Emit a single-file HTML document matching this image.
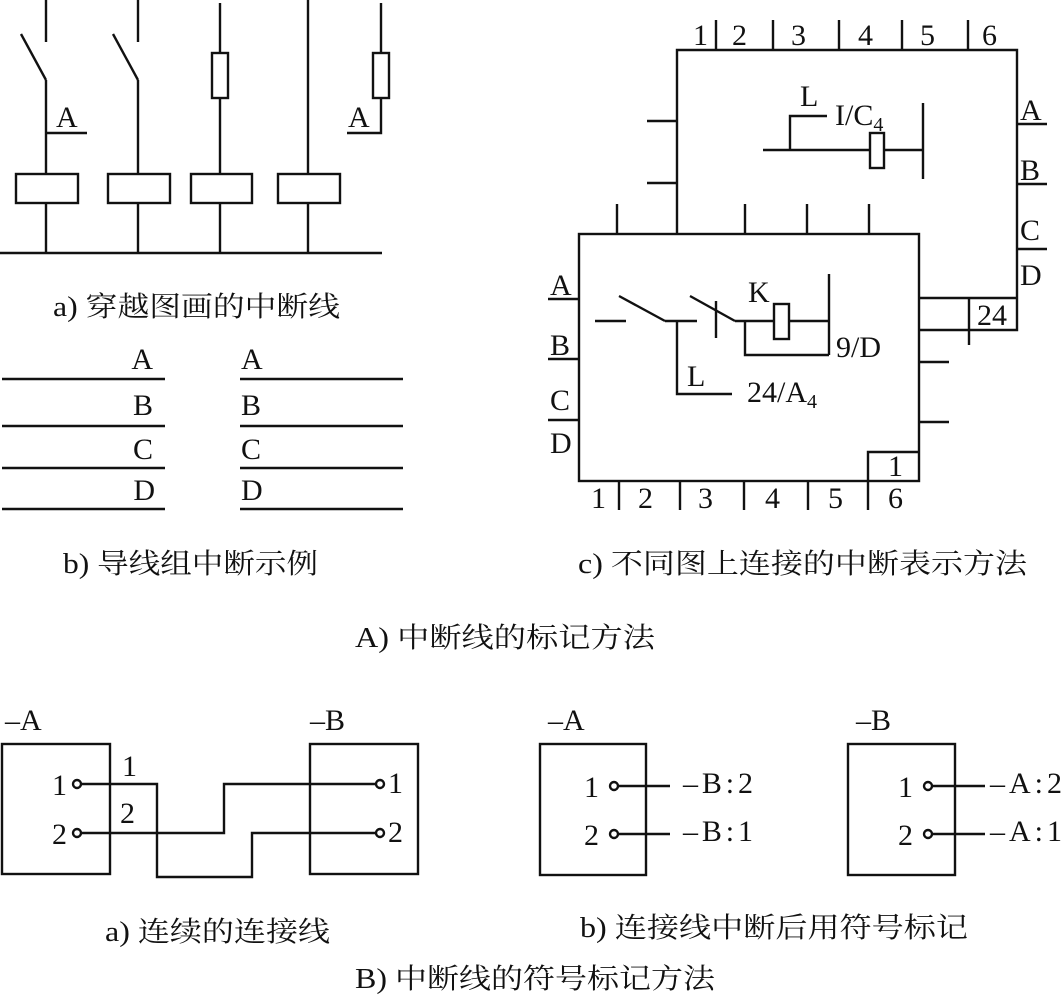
<!DOCTYPE html>
<html><head><meta charset="utf-8"><style>
html,body{margin:0;padding:0;background:#fff;}
svg{display:block;}
text{font-family:"Liberation Serif","Noto Serif CJK SC",serif;fill:#111;}
</style></head><body>
<svg width="1064" height="996" viewBox="0 0 1064 996" xmlns="http://www.w3.org/2000/svg">
<g stroke="#111" stroke-width="2.4" fill="none">
<line x1="46" y1="0" x2="46" y2="42"/><line x1="21" y1="34" x2="46" y2="80"/><line x1="46" y1="80" x2="46" y2="174"/>
<line x1="46" y1="133" x2="87" y2="133"/>
<line x1="138" y1="0" x2="138" y2="42"/><line x1="113" y1="34" x2="138" y2="80"/><line x1="138" y1="80" x2="138" y2="174"/>
<line x1="220" y1="3" x2="220" y2="53"/><rect x="212" y="53" width="16" height="45"/><line x1="220" y1="98" x2="220" y2="174"/>
<line x1="308" y1="0" x2="308" y2="174"/>
<line x1="381" y1="3" x2="381" y2="53"/><rect x="373" y="53" width="16" height="45"/><polyline points="381,98 381,133 347,133"/>
<rect x="16" y="174" width="62" height="29"/><rect x="108" y="174" width="62" height="29"/><rect x="191" y="174" width="61" height="29"/><rect x="278" y="174" width="62" height="29"/>
<line x1="46" y1="203" x2="46" y2="253"/><line x1="138" y1="203" x2="138" y2="253"/><line x1="220" y1="203" x2="220" y2="253"/><line x1="308" y1="203" x2="308" y2="253"/>
<line x1="0" y1="253" x2="382" y2="253"/>
<line x1="2" y1="379" x2="165" y2="379"/><line x1="2" y1="426" x2="165" y2="426"/><line x1="2" y1="468" x2="165" y2="468"/><line x1="2" y1="509" x2="165" y2="509"/>
<line x1="240" y1="379" x2="403" y2="379"/><line x1="240" y1="426" x2="403" y2="426"/><line x1="240" y1="468" x2="403" y2="468"/><line x1="240" y1="509" x2="403" y2="509"/>
<polyline points="677,234 677,50 1017,50 1017,330 920,330"/>
<line x1="920" y1="298" x2="1017" y2="298"/><line x1="969" y1="298" x2="969" y2="345"/>
<line x1="716" y1="20" x2="716" y2="50"/><line x1="773" y1="20" x2="773" y2="50"/><line x1="839" y1="20" x2="839" y2="50"/><line x1="902" y1="20" x2="902" y2="50"/><line x1="968" y1="20" x2="968" y2="50"/>
<line x1="647" y1="121" x2="677" y2="121"/><line x1="647" y1="183" x2="677" y2="183"/>
<polyline points="790,150 790,116 827,116"/>
<line x1="763" y1="150" x2="870" y2="150"/><rect x="870" y="133" width="14" height="35"/><line x1="884" y1="150" x2="923" y2="150"/>
<line x1="923" y1="103" x2="923" y2="179"/>
<line x1="1017" y1="124" x2="1047" y2="124"/><line x1="1017" y1="184" x2="1047" y2="184"/><line x1="1017" y1="249" x2="1047" y2="249"/>
<rect x="579" y="234" width="340" height="247" fill="#fff"/>
<line x1="617" y1="204" x2="617" y2="234"/><line x1="745" y1="204" x2="745" y2="234"/><line x1="807" y1="204" x2="807" y2="234"/><line x1="869" y1="204" x2="869" y2="234"/>
<line x1="619" y1="481" x2="619" y2="510"/><line x1="680" y1="481" x2="680" y2="510"/><line x1="744" y1="481" x2="744" y2="510"/><line x1="808" y1="481" x2="808" y2="510"/><line x1="868" y1="481" x2="868" y2="510"/>
<polyline points="868,481 868,452 919,452"/>
<line x1="548" y1="299" x2="579" y2="299"/><line x1="548" y1="359" x2="579" y2="359"/><line x1="548" y1="420" x2="579" y2="420"/>
<line x1="919" y1="362" x2="949" y2="362"/><line x1="919" y1="422" x2="949" y2="422"/>
<line x1="595" y1="321" x2="626" y2="321"/><line x1="619" y1="296" x2="665" y2="321"/><line x1="665" y1="321" x2="697" y2="321"/>
<polyline points="677,321 677,394 732,394"/>
<line x1="690" y1="296" x2="735" y2="321"/><line x1="716" y1="301" x2="716" y2="338"/>
<line x1="735" y1="321" x2="774" y2="321"/><rect x="774" y="304" width="15" height="35"/><line x1="789" y1="321" x2="829" y2="321"/>
<line x1="829" y1="274" x2="829" y2="355"/><polyline points="745,321 745,355 829,355"/>
<rect x="2" y="744" width="108" height="130"/><rect x="310" y="744" width="108" height="130"/>
<polyline points="81,784 157,784 157,877 252,877 252,833 376,833"/>
<polyline points="81,833 224,833 224,784 376,784"/>
<circle cx="77" cy="784" r="4"/><circle cx="77" cy="833" r="4"/><circle cx="380" cy="784" r="4"/><circle cx="380" cy="833" r="4"/>
<rect x="540" y="744" width="106" height="131"/><rect x="848" y="744" width="107" height="131"/>
<circle cx="614" cy="786" r="4"/><circle cx="614" cy="834" r="4"/><line x1="618" y1="786" x2="670" y2="786"/><line x1="618" y1="834" x2="670" y2="834"/>
<circle cx="928" cy="786" r="4"/><circle cx="928" cy="834" r="4"/><line x1="932" y1="786" x2="985" y2="786"/><line x1="932" y1="834" x2="985" y2="834"/>
</g>
<g font-size="30">
<text x="56" y="127">A</text><text x="348" y="127">A</text>
<text x="153" y="369" text-anchor="end">A</text><text x="153" y="415" text-anchor="end">B</text><text x="153" y="459" text-anchor="end">C</text><text x="155" y="500" text-anchor="end">D</text>
<text x="241" y="369">A</text><text x="241" y="415">B</text><text x="241" y="459">C</text><text x="241" y="500">D</text>
<text x="693" y="45">1</text><text x="732" y="45">2</text><text x="791" y="45">3</text><text x="858" y="45">4</text><text x="920" y="45">5</text><text x="982" y="45">6</text>
<text x="800" y="106">L</text><text x="835" y="125">I/C<tspan font-size="20" dy="6">4</tspan></text>
<text x="1020" y="120">A</text><text x="1020" y="180">B</text><text x="1020" y="240">C</text><text x="1020" y="285">D</text>
<text x="550" y="295">A</text><text x="550" y="355">B</text><text x="550" y="410">C</text><text x="550" y="453">D</text>
<text x="748" y="302">K</text><text x="836" y="357">9/D</text><text x="687" y="386">L</text><text x="747" y="402">24/A<tspan font-size="20" dy="6">4</tspan></text>
<text x="977" y="325">24</text><text x="888" y="476">1</text>
<text x="591" y="508">1</text><text x="638" y="508">2</text><text x="698" y="508">3</text><text x="765" y="508">4</text><text x="828" y="508">5</text><text x="888" y="508">6</text>
<text x="5" y="730">–A</text><text x="310" y="730">–B</text><text x="548" y="730">–A</text><text x="856" y="730">–B</text>
<text x="52" y="795">1</text><text x="52" y="844">2</text><text x="122" y="776">1</text><text x="120" y="823">2</text>
<text x="388" y="793">1</text><text x="388" y="842">2</text>
<text x="584" y="797">1</text><text x="584" y="845">2</text>
<text x="683" y="793" textLength="70" lengthAdjust="spacing">–B:2</text><text x="683" y="841" textLength="70" lengthAdjust="spacing">–B:1</text>
<text x="898" y="797">1</text><text x="898" y="845">2</text>
<text x="990" y="793" textLength="72" lengthAdjust="spacing">–A:2</text><text x="990" y="841" textLength="72" lengthAdjust="spacing">–A:1</text>
</g>
<g font-size="28">
<text x="53" y="316" textLength="287" lengthAdjust="spacingAndGlyphs">a) 穿越图画的中断线</text>
<text x="63" y="573" textLength="255" lengthAdjust="spacingAndGlyphs">b) 导线组中断示例</text>
<text x="578" y="573" textLength="449" lengthAdjust="spacingAndGlyphs">c) 不同图上连接的中断表示方法</text>
<text x="355" y="647" textLength="300" lengthAdjust="spacingAndGlyphs">A) 中断线的标记方法</text>
<text x="105" y="941" textLength="225" lengthAdjust="spacingAndGlyphs">a) 连续的连接线</text>
<text x="580" y="937" textLength="388" lengthAdjust="spacingAndGlyphs">b) 连接线中断后用符号标记</text>
<text x="355" y="988" textLength="360" lengthAdjust="spacingAndGlyphs">B) 中断线的符号标记方法</text>
</g>
</svg>
</body></html>
